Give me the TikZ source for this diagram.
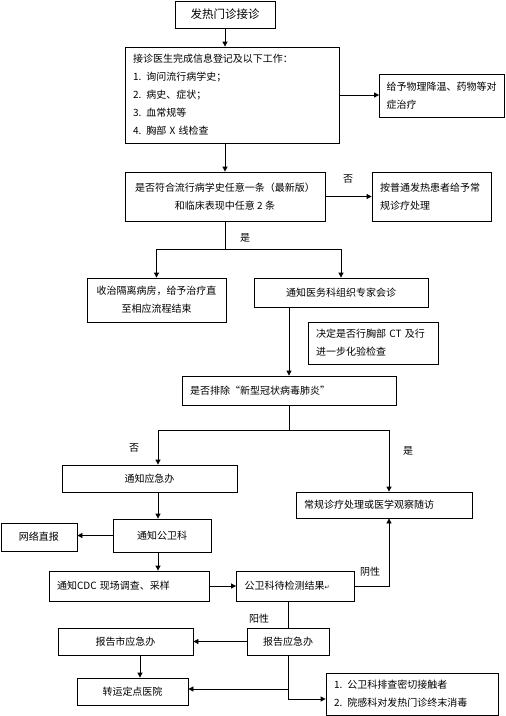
\documentclass[tikz,border=0pt]{standalone}
\usepackage{fontspec}
\newfontfamily\cjk{Noto Sans CJK SC}
\newfontfamily\symfont{DejaVu Sans}
\usetikzlibrary{arrows.meta}

\tikzset{
    box/.style={draw, line width=0.8pt, inner ysep=0pt, font=\cjk\fontsize{10}{18}\selectfont},
    cbox/.style={box, align=center, inner xsep=0pt},
    lbox/.style={box, align=left, inner xsep=8pt},
    lin/.style={line width=0.8pt},
    arr/.style={line width=0.8pt, -{Triangle[length=5pt,width=5pt]}},
    lab/.style={font=\cjk\fontsize{10}{12}\selectfont, inner sep=0pt}
}

\begin{document}
\begin{tikzpicture}[x=1pt, y=-1pt]
    \useasboundingbox (0,0) rectangle (506,716);

    % The boxes
    \node[cbox, minimum width=100, minimum height=27, font=\cjk\fontsize{11.5}{14}\selectfont] (start) at (225,14.5) {发热门诊接诊};
    \node[lbox, text width=198, minimum height=96] (work) at (232,95) {接诊医生完成信息登记及以下工作：\\1. 询问流行病学史；\\2. 病史、症状；\\3. 血常规等\\4. 胸部 X 线检查};
    \node[lbox, text width=111, inner xsep=7pt, minimum height=43] (cool) at (442,95.5) {给予物理降温、药物等对\\症治疗};
    \node[cbox, minimum width=200, minimum height=49] (judge) at (225,196.5) {是否符合流行病学史任意一条（最新版）\\和临床表现中任意 2 条};
    \node[lbox, text width=103, minimum height=49] (normal) at (431.5,196.5) {按普通发热患者给予常\\规诊疗处理};
    \node[cbox, minimum width=139, minimum height=44] (ward) at (156.5,300) {收治隔离病房，给予治疗直\\至相应流程结束};
    \node[cbox, minimum width=174, minimum height=29] (consult) at (341,292.5) {通知医务科组织专家会诊};
    \node[lbox, text width=114, minimum height=42] (ct) at (373,343) {决定是否行胸部 CT 及行\\进一步化验检查};
    \node[lbox, text width=198, minimum height=29] (exclude) at (289,390.5) {是否排除“新型冠状病毒肺炎”};
    \node[cbox, minimum width=175, minimum height=27] (emer) at (149.5,478.5) {通知应急办};
    \node[lbox, text width=160, minimum height=26] (routine) at (384,505) {常规诊疗处理或医学观察随访};
    \node[cbox, minimum width=98, minimum height=33] (pubh) at (162,535.5) {通知公卫科};
    \node[cbox, minimum width=76, minimum height=28] (net) at (39,537) {网络直报};
    \node[lbox, text width=144, minimum height=30] (cdc) at (129,586) {通知CDC 现场调查、采样};
    \node[lbox, text width=102, minimum height=30] (wait) at (295.5,586) {公卫科待检测结果{\symfont\fontsize{6}{6}\selectfont ↵}};
    \node[cbox, minimum width=82, minimum height=27] (report) at (288,641.5) {报告应急办};
    \node[cbox, minimum width=135, minimum height=27] (city) at (125.5,641.5) {报告市应急办};
    \node[cbox, minimum width=111, minimum height=27] (transfer) at (132.5,691.5) {转运定点医院};
    \node[lbox, text width=156, minimum height=42] (trace) at (412,694) {1. 公卫科排查密切接触者\\2. 院感科对发热门诊终末消毒};

    % Junctions
    \coordinate (split1) at (225,249);
    \coordinate (split2) at (289,430);
    \coordinate (colA) at (158,430);
    \coordinate (colB) at (389,430);
    \coordinate (colC) at (140,660);
    \coordinate (tapA) at (288,689);
    \coordinate (tapB) at (288,699);

    % The connectors
    \draw[arr] (start.south) -- (start.south |- work.north);
    \draw[arr] (work.east) -- (work.east -| cool.west);
    \draw[arr] (judge.north |- work.south) -- (judge.north);
    \draw[arr] (judge.east) -- (judge.east -| normal.west);
    \draw[lin] (judge.south) -- (split1);
    \draw[arr] (split1) -| (ward.north);
    \draw[arr] (split1) -| (consult.north);
    \draw[arr] (exclude.north |- consult.south) -- (exclude.north);
    \draw[lin] (exclude.south) -- (split2);
    \draw[arr] (split2) -- (colA) -- (colA |- emer.north);
    \draw[arr] (split2) -- (colB) -- (colB |- routine.north);
    \draw[arr] (colA |- emer.south) -- (colA |- pubh.north);
    \draw[arr] (pubh.west) -- (pubh.west -| net.east);
    \draw[arr] (colA |- pubh.south) -- (colA |- cdc.north);
    \draw[arr] (cdc.east) -- (wait.west);
    \draw[arr] (wait.east) -| (colB |- routine.south);
    \draw[lin] (report.north |- wait.south) -- (report.north);
    \draw[arr] (report.west) -- (city.east);
    \draw[arr] (colC |- city.south) -- (colC |- transfer.north);
    \draw[arr] (report.south) -- (tapB) -- (tapB -| trace.west);
    \draw[arr] (tapA) -- (tapA -| transfer.east);

    % Labels
    \node[lab] (no1) at (348,179) {否};
    \node[lab] (yes1) at (245,238) {是};
    \node[lab] (no2) at (134,448) {否};
    \node[lab] (yes2) at (408,451) {是};
    \node[lab] (neg) at (370,572) {阴性};
    \node[lab] (pos) at (259,619) {阳性};
\end{tikzpicture}
\end{document}
